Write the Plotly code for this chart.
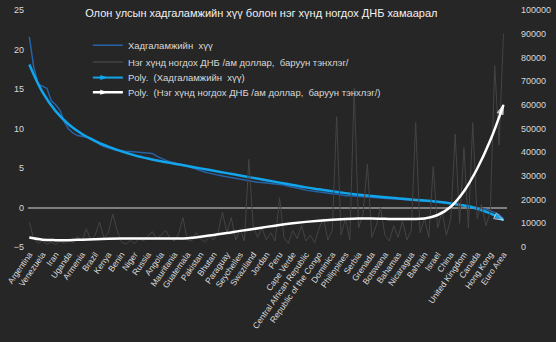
import plotly.graph_objects as go

# ---- data ----
tick_labels = ["Argentina", "Venezuela", "Iran", "Uganda", "Armenia", "Brazil", "Kenya", "Benin",
               "Niger", "Russia", "Angola", "Mauritania", "Guatemala", "Pakistan", "Bhutan",
               "Paraguay", "Seychelles", "Swaziland", "Jordan", "Peru", "Cape Verde",
               "Central African Republic", "Republic of the Congo", "Dominica", "Philippines",
               "Serbia", "Grenada", "Botswana", "Bahamas", "Nicaragua", "Bahrain", "Israel",
               "China", "United Kingdom", "Canada", "Hong Kong", "Euro Area"]
label_step = 3  # every 3rd country is labelled

savings_rate = [21.6, 17.8, 15.6, 15.3, 15.1, 13.5, 13.0, 12.3, 10.8, 9.9,
                9.4, 9.1, 9.0, 8.9, 8.8, 8.5, 8.0, 7.7, 7.5, 7.3,
                7.2, 7.2, 7.1, 7.1, 7.05, 7.0, 7.0, 6.9, 6.85, 6.5,
                6.2, 6.0, 5.8, 5.6, 5.5, 5.4, 5.2, 5.0, 4.9, 4.7,
                4.5, 4.35, 4.2, 4.1, 4.0, 3.9, 3.8, 3.7, 3.6, 3.45,
                3.35, 3.3, 3.2, 3.15, 3.1, 3.05, 3.0, 2.95, 2.85, 2.7,
                2.6, 2.5, 2.35, 2.2, 2.1, 2.0, 1.95, 1.9, 1.8, 1.75,
                1.7, 1.6, 1.5, 1.5, 1.45, 1.4, 1.35, 1.3, 1.25, 1.2,
                1.2, 1.15, 1.1, 1.1, 1.05, 1.0, 1.0, 0.95, 0.9, 0.85,
                0.8, 0.8, 0.75, 0.7, 0.65, 0.6, 0.55, 0.5, 0.4, 0.3,
                0.25, 0.1, 0.0, -0.1, -0.2, -0.4, -0.6, -0.9, -1.4]

gdp_per_capita = [10500, 3500, 1500, 2500, 1200, 2000, 1000, 2500, 1500, 3000,
                  1800, 4500, 2500, 7700, 3000, 5000, 10500, 4000, 6000, 13900,
                  7000, 2000, 1200, 2800, 1500, 3500, 2500, 4500, 6500, 3500,
                  5000, 7000, 4000, 2500, 5500, 12400, 3000, 2500, 6000, 3500,
                  2000, 4500, 3000, 6500, 14600, 6000, 12400, 3000, 7500, 2500,
                  37000, 9000, 4000, 8000, 3000, 6000, 2500, 20800, 4000, 1500,
                  7000, 3500, 9000, 2500, 5000, 1800, 8000, 12000, 3000, 7000,
                  55000, 5000, 12000, 3000, 67000, 8000, 14000, 35000, 4000, 9000,
                  16600, 5000, 2500, 9000, 4000, 11000, 3000, 7000, 52500, 6000,
                  12000, 4000, 33900, 8000, 15000, 5000, 12000, 47600, 10000, 42000,
                  8000, 52500, 12000, 18000, 9000, 15000, 76600, 43000, 90000]

# polynomial trend lines as drawn in the picture, read at the labelled countries
savings_trend = [18.1, 14.6, 12.2, 10.5, 9.3, 8.4, 7.7, 7.1, 6.6, 6.2,
                 5.85, 5.55, 5.25, 4.95, 4.65, 4.35, 4.05, 3.75, 3.45, 3.15,
                 2.85, 2.55, 2.3, 2.05, 1.82, 1.62, 1.45, 1.3, 1.15, 1.0,
                 0.88, 0.72, 0.52, 0.25, -0.15, -0.75, -1.6]
gdp_trend = [4000, 3100, 2900, 2900, 3100, 3300, 3500, 3600, 3600, 3600,
             3600, 3600, 3700, 4300, 5100, 5900, 6800, 7600, 8500, 9300,
             10000, 10600, 11100, 11500, 11800, 12000, 12000, 11900, 11800, 11800,
             12000, 13500, 17000, 23500, 33000, 45000, 60000]

name_sav = "Хадгаламжийн  хүү"
name_gdp = "Нэг хүнд ногдох ДНБ /ам доллар,  баруун тэнхлэг/"
name_sav_t = "Poly.  (Хадгаламжийн  хүү)"
name_gdp_t = "Poly.  (Нэг хүнд ногдох ДНБ /ам доллар,  баруун тэнхлэг/)"

# ---- derived positions ----
x_all = list(range(len(savings_rate)))
x_lab = [i * label_step for i in range(len(tick_labels))]

C_SAV = "#2862A6"
C_SAVT = "#12A5EC"
C_GDP = "#454343"
C_GDPT = "#FFFFFF"
TXT = "#D9D9D9"
BG = "#262626"
FONT = "Liberation Sans, Arial, sans-serif"

fig = go.Figure()

fig.add_trace(go.Scatter(x=x_all, y=savings_rate, mode="lines", yaxis="y",
                         line=dict(color=C_SAV, width=1.5), showlegend=False))
fig.add_trace(go.Scatter(x=x_lab, y=savings_trend, mode="lines+markers", yaxis="y",
                         line=dict(color=C_SAVT, width=2.5, shape="spline"),
                         marker=dict(symbol="arrow", angleref="previous", color=C_SAVT,
                                     size=[0] * (len(x_lab) - 1) + [10]),
                         showlegend=False))
fig.add_trace(go.Scatter(x=x_all, y=gdp_per_capita, mode="lines", yaxis="y2",
                         line=dict(color=C_GDP, width=1), showlegend=False))
fig.add_trace(go.Scatter(x=x_lab, y=gdp_trend, mode="lines+markers", yaxis="y2",
                         line=dict(color=C_GDPT, width=2.5, shape="spline"),
                         marker=dict(symbol="arrow", angleref="previous", color=C_GDPT,
                                     size=[0] * (len(x_lab) - 1) + [10]),
                         showlegend=False))

# legend entries, one legend box each so the row spacing can match
fig.add_trace(go.Scatter(x=[None], y=[None], mode="lines", name=name_sav, legend="legend",
                         line=dict(color=C_SAV, width=1.5)))
fig.add_trace(go.Scatter(x=[None], y=[None], mode="lines", name=name_gdp, legend="legend2",
                         line=dict(color=C_GDP, width=1.5)))
fig.add_trace(go.Scatter(x=[None], y=[None], mode="lines+markers", name=name_sav_t,
                         legend="legend3", line=dict(color=C_SAVT, width=2),
                         marker=dict(symbol="arrow", angle=90, size=8, color=C_SAVT)))
fig.add_trace(go.Scatter(x=[None], y=[None], mode="lines+markers", name=name_gdp_t,
                         legend="legend4", line=dict(color=C_GDPT, width=2.5),
                         marker=dict(symbol="arrow", angle=90, size=8, color=C_GDPT)))

leg_common = dict(x=0.125, xanchor="left", yanchor="middle", bgcolor="rgba(0,0,0,0)",
                  font=dict(size=9.5, color=TXT, family=FONT), itemwidth=30)
leg_rows_px = [41, 58, 74, 89]
plot_top, plot_bottom = 5, 247
leg_y = [(plot_bottom - p) / (plot_bottom - plot_top) for p in leg_rows_px]

fig.update_layout(
    width=556, height=342,
    paper_bgcolor=BG, plot_bgcolor=BG,
    margin=dict(l=21, r=40, t=5, b=95),
    font=dict(family=FONT, color=TXT, size=9),
    title=dict(text="Олон улсын хадгаламжийн хүү болон нэг хүнд ногдох ДНБ хамаарал",
               x=0.47, xanchor="center", y=0.962, yanchor="middle", yref="container",
               font=dict(size=11, color="#F2F2F2", family=FONT)),
    xaxis=dict(range=[-0.3, 108.8], tickmode="array", tickvals=x_lab, ticktext=tick_labels,
               tickangle=-55, tickfont=dict(size=8.5, color=TXT), showgrid=False,
               zeroline=False, showline=False, ticks="", ticklabeloverflow="allow"),
    yaxis=dict(range=[-5, 25], dtick=5, showgrid=False, zeroline=True,
               zerolinecolor="#7F7F7F", zerolinewidth=1.5, showline=False, ticks="",
               tickfont=dict(size=9, color=TXT), ticklabelstandoff=3),
    yaxis2=dict(range=[0, 100000], dtick=10000, overlaying="y", side="right",
                showgrid=False, zeroline=False, showline=False, ticks="",
                tickformat="d", tickfont=dict(size=9, color=TXT), ticklabelstandoff=13),
    legend=dict(y=leg_y[0], **leg_common),
    legend2=dict(y=leg_y[1], **leg_common),
    legend3=dict(y=leg_y[2], **leg_common),
    legend4=dict(y=leg_y[3], **leg_common),
    showlegend=True,
)

fig.write_html("out.html")
